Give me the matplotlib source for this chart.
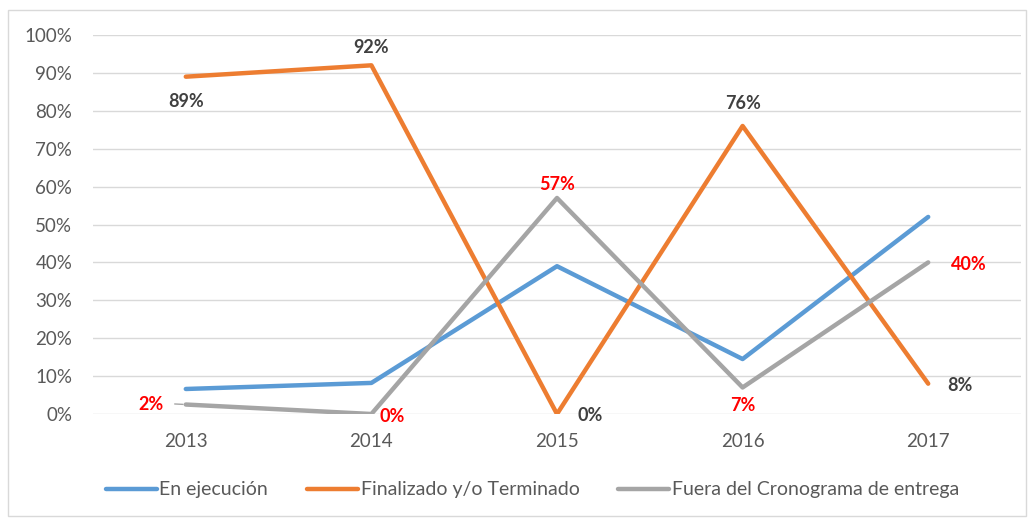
import matplotlib.pyplot as plt
from matplotlib.patches import Rectangle
from matplotlib.ticker import PercentFormatter

years = ["2013", "2014", "2015", "2016", "2017"]
en_ejecucion = [6.6, 8.2, 39, 14.5, 52]
finalizado = [89, 92, 0, 76, 8]
fuera = [2.5, 0, 57, 7, 40]

series_names = ["En ejecución", "Finalizado y/o Terminado", "Fuera del Cronograma de entrega"]

# data labels: (series, index, text, colour, offset in points)
labels = [
	(finalizado, 0, "89%", "#404040", (0, -18)),
	(finalizado, 1, "92%", "#404040", (0, 13)),
	(fuera, 2, "57%", "#FF0000", (0, 10)),
	(finalizado, 3, "76%", "#404040", (0, 16)),
	(fuera, 4, "40%", "#FF0000", (29, -1.5)),
	(finalizado, 4, "8%", "#404040", (23, -1.5)),
	(fuera, 0, "2%", "#FF0000", (-25, 0)),
	(fuera, 1, "0%", "#FF0000", (15, -1.5)),
	(finalizado, 2, "0%", "#404040", (24, -1)),
	(fuera, 3, "7%", "#FF0000", (0, -13)),
]

plt.rcParams['font.family'] = ['Lato', 'DejaVu Sans']

fig = plt.figure(figsize=(10.34, 5.2), dpi=100)
ax = fig.add_axes([93/1034, 1-414/520, (1021-93)/1034, (414-35)/520])

x = list(range(len(years)))
ax.plot(x, en_ejecucion, color="#5B9BD5", lw=3.2, label=series_names[0], solid_capstyle='round')
ax.plot(x, finalizado, color="#ED7D31", lw=3.2, label=series_names[1], solid_capstyle='round')
ax.plot(x, fuera, color="#A5A5A5", lw=3.2, label=series_names[2], solid_capstyle='round')

for ser, i, txt, col, off in labels:
	ax.annotate(txt, (i, ser[i]), xytext=off, textcoords='offset points',
		ha='center', va='center', color=col, fontsize=13, fontweight='bold')

# short leader line for the 2% label
ax.annotate("", (0, fuera[0]), xytext=(-10, 0.5), textcoords='offset points',
	arrowprops=dict(arrowstyle='-', color="#A5A5A5", lw=1))

ax.set_xlim(-0.5, 4.5)
ax.set_ylim(0, 100)
ax.set_yticks(range(0, 101, 10))
ax.yaxis.set_major_formatter(PercentFormatter(decimals=0))
ax.set_xticks(x)
ax.set_xticklabels(years)
ax.grid(axis='y', color="#D9D9D9", lw=1)
ax.set_axisbelow(True)
for s in ax.spines.values():
	s.set_visible(False)
ax.tick_params(axis='both', length=0, colors="#595959", labelsize=13.5)
ax.tick_params(axis='x', pad=14)
ax.tick_params(axis='y', pad=15)

fig.legend(loc='center', bbox_to_anchor=(0.515, 1-490/520), ncol=3, frameon=False,
	fontsize=14, handlelength=2.6, columnspacing=2.0, handletextpad=0.15,
	labelcolor="#595959")

fig.patches.append(Rectangle((8/1034, 4/520), 1018/1034, 506/520, transform=fig.transFigure,
	fill=False, edgecolor="#D9D9D9", lw=1))

fig.savefig("out.png", dpi=100)
